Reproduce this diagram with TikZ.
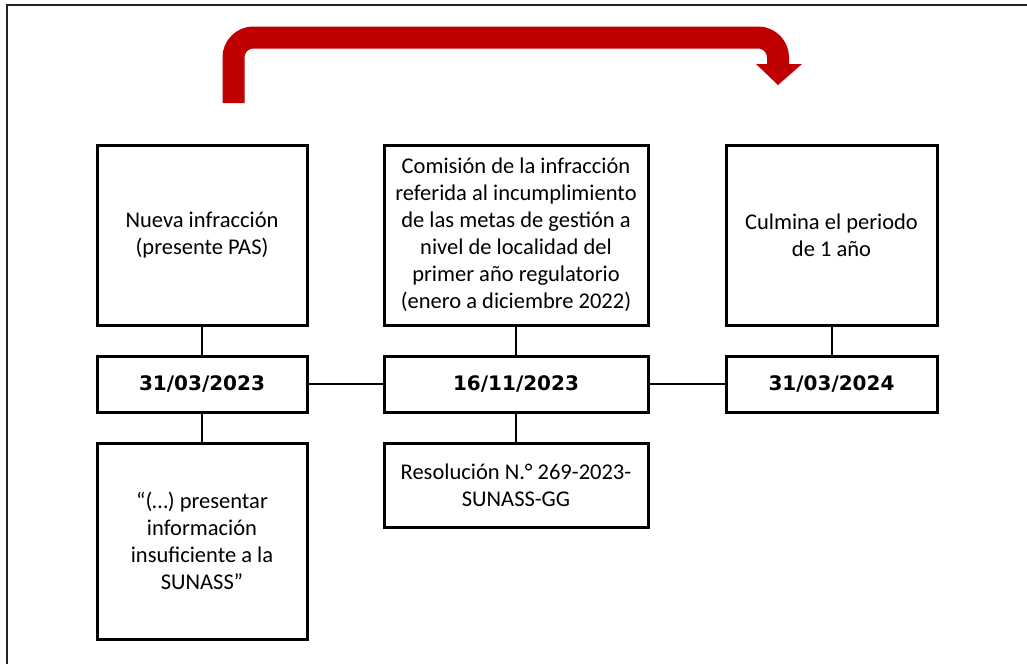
\documentclass[tikz,border=0pt]{standalone}
\usepackage{fontspec}
\setmainfont{Carlito}
\newfontfamily\datefont{DejaVu Sans}
\definecolor{arrowred}{HTML}{C00000}
\definecolor{framegray}{HTML}{222222}
\begin{document}
\begin{tikzpicture}[x=1pt,y=-1pt,
  box/.style={draw=black, line width=3pt, inner sep=0pt, align=center,
    font=\fontsize{22.5}{27}\selectfont},
  datebox/.style={draw=black, line width=3pt, inner sep=0pt, align=center,
    font=\datefont\bfseries\fontsize{20}{24}\selectfont},
  link/.style={draw=black, line width=2pt}
]
\useasboundingbox (0,0) rectangle (1027,664);
% outer frame (top and left edges)
\draw[line width=2pt, framegray] (7,664) -- (7,5) -- (1027,5);
% top boxes
\node[box, minimum width=210, minimum height=180] (a) at (202,235)
  {Nueva infracción\\(presente PAS)};
\node[box, minimum width=264, minimum height=180] (b) at (516,235)
  {Comisión de la infracción\\referida al incumplimiento\\de las metas de gestión a\\nivel de localidad del\\primer año regulatorio\\(enero a diciembre 2022)};
\node[box, minimum width=211, minimum height=180] (c) at (831.5,235)
  {Culmina el periodo\\de 1 año};
% date boxes
\node[datebox, minimum width=210, minimum height=56] (ad) at (202,384) {31/03/2023};
\node[datebox, minimum width=264, minimum height=56] (bd) at (516,384) {16/11/2023};
\node[datebox, minimum width=211, minimum height=56] (cd) at (831.5,384) {31/03/2024};
% lower boxes
\node[box, minimum width=210, minimum height=196] (al) at (202,541)
  {“(…) presentar\\información\\insuficiente a la\\SUNASS”};
\node[box, minimum width=264, minimum height=84] (bl) at (516,485)
  {Resolución N.° 269-2023-\\SUNASS-GG};
% connectors
\draw[link] (a) -- (ad);
\draw[link] (ad) -- (al);
\draw[link] (b) -- (bd);
\draw[link] (bd) -- (bl);
\draw[link] (c) -- (cd);
\draw[link] (ad) -- (bd);
\draw[link] (bd) -- (cd);
% red bent arrow
\coordinate (s) at (233.5,103);
\coordinate (k1) at (233.5,37.5);
\coordinate (k2) at (778,37.5);
\coordinate (e) at (778,66);
\draw[arrowred, line width=22pt, rounded corners=20pt] (s) -- (k1) -- (k2) -- (e);
\fill[arrowred] (756,64) -- (802,64) -- (778,85) -- cycle;
\end{tikzpicture}
\end{document}
